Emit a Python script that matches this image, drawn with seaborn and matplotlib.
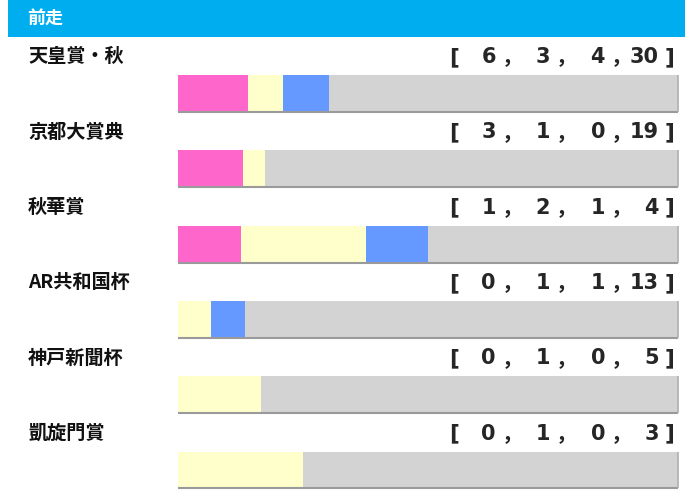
import numpy as np
import pandas as pd
import matplotlib
matplotlib.use("Agg")
import matplotlib.pyplot as plt
import seaborn as sns

# data
races = ["天皇賞・秋", "京都大賞典", "秋華賞", "AR共和国杯", "神戸新聞杯", "凱旋門賞"]
first = [6, 3, 1, 0, 0, 0]
second = [3, 1, 2, 1, 1, 1]
third = [4, 0, 1, 1, 0, 0]
other = [30, 19, 4, 13, 5, 3]
title = "前走"

pink, yellow, blue, gray = "#FF66CC", "#FFFFCC", "#6699FF", "#D3D3D3"

sns.set_style("white")
plt.rcParams["font.family"] = ["Noto Sans CJK JP", "DejaVu Sans"]

W, H = 692, 491
fig = plt.figure(figsize=(W / 100, H / 100), dpi=100)


def fx(x):
    return x / W


def fy(y):
    return 1 - y / H


# header band
bg = fig.add_axes([0, 0, 1, 1])
bg.set_xlim(0, W)
bg.set_ylim(H, 0)
bg.axis("off")
bg.add_patch(plt.Rectangle((8, 0), 677, 37, color="#00AEEF", lw=0))
fig.text(fx(27), fy(18), title, color="white", fontsize=13,
         fontweight="bold", va="center", ha="left")

# cumulative fractions for stacked bars
df = pd.DataFrame({"race": races, "w": first, "s": second, "t": third, "o": other})
df["total"] = df[["w", "s", "t", "o"]].sum(axis=1)
df["c1"] = df["w"] / df["total"]
df["c2"] = (df["w"] + df["s"]) / df["total"]
df["c3"] = (df["w"] + df["s"] + df["t"]) / df["total"]
df["c4"] = 1.0

# bar axes: rows are 75.3 px apart, first bar centred at y=93.5
pitch = 75.3
top = 93.5 - pitch / 2
bottom = top + pitch * len(races)
x0, x1 = 178, 679
bax = fig.add_axes([fx(x0), fy(bottom), (x1 - x0) / W, (bottom - top) / H])
bw = 37 / pitch
for col, c in [("c4", gray), ("c3", blue), ("c2", yellow), ("c1", pink)]:
    sns.barplot(data=df, x=col, y="race", order=races, orient="h", color=c,
                saturation=1, width=bw, errorbar=None, linewidth=0, ax=bax)
# little shadow on bottom and right of each bar
ys = np.arange(len(races))
bax.hlines(ys + bw / 2, 0, 1, color="#9A9A9A", lw=1.5)
for yy in ys:
    bax.vlines(1, yy - bw / 2, yy + bw / 2, color="#B0B0B0", lw=1.2)
bax.set_xlim(0, 1.002)
bax.set_ylim(len(races) - 0.5, -0.5)
bax.axis("off")

# row labels and counts
num_x = [496, 550, 605, 659]
comma_x = [502, 556, 611]
for i, r in df.iterrows():
    yc = 57 + i * pitch
    fig.text(fx(28), fy(yc), r["race"], fontsize=13.8, fontweight="bold",
             va="center", ha="left", color="#111111")
    fig.text(fx(449), fy(yc), "[", fontsize=15.5, fontweight="bold",
             va="center", ha="left", family="DejaVu Sans")
    fig.text(fx(665), fy(yc), "]", fontsize=15.5, fontweight="bold",
             va="center", ha="left", family="DejaVu Sans")
    for xx, v in zip(num_x, [r["w"], r["s"], r["t"], r["o"]]):
        fig.text(fx(xx), fy(yc), str(v), fontsize=15, fontweight="bold",
                 va="center", ha="right", family="DejaVu Sans")
    for xx in comma_x:
        fig.text(fx(xx), fy(yc), "，", fontsize=15, fontweight="bold",
                 va="center", ha="left")

fig.savefig("out.png", dpi=100)
